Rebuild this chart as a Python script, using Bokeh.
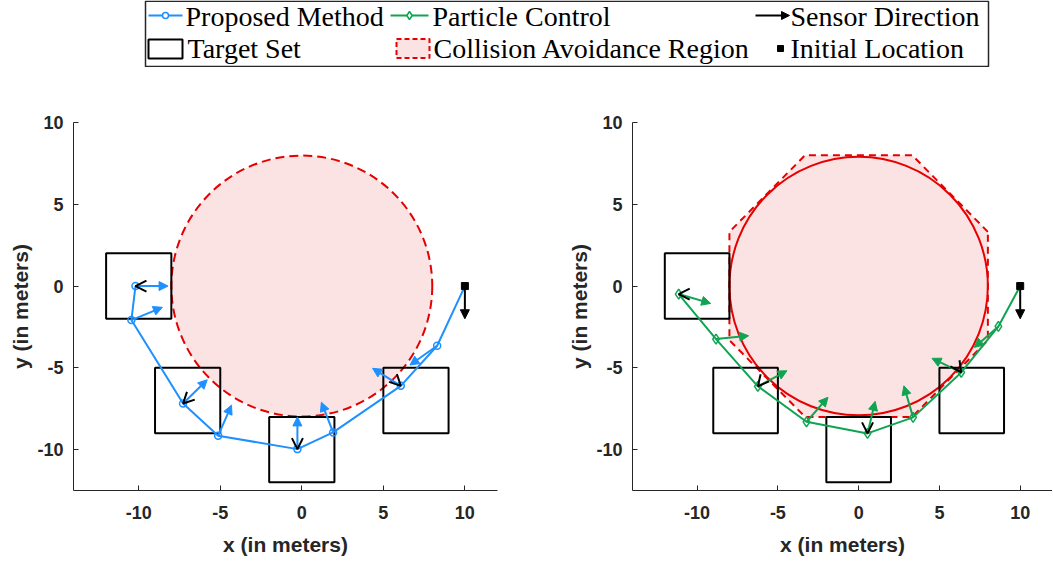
import numpy as np
from bokeh.plotting import figure
from bokeh.models import Range1d, FixedTicker, Arrow, NormalHead, OpenHead, ColumnDataSource
from bokeh.layouts import column, row
from bokeh.embed import file_html
from bokeh.resources import INLINE
from bokeh.core.properties import value

# ---------------- data ----------------
target_cx = [-10, -7, 0, 7]
target_cy = [0, -7, -10, -7]
target_half = 2.0
avoid_radius = 8.0
initial_xy = (10.0, 0.0)
initial_dir = (0.0, -2.0)

# Proposed Method trajectory
prop_x = [10.0, 8.3, 6.07, 1.92, -0.27, -5.13, -7.28, -10.45, -10.2]
prop_y = [0.0, -3.65, -6.1, -8.95, -9.97, -9.15, -7.18, -2.08, 0.0]
prop_u = [None, -1.67, -1.73, -0.72, 0.0, 0.82, 1.48, 1.9, 2.0]
prop_v = [None, -1.18, 1.07, 1.85, 1.97, 1.87, 1.45, 0.78, 0.0]
prop_sensor_idx = [2, 4, 6, 8]
prop_sensor_deg = [315, 270, 225, 180]

# Particle Control trajectory
part_x = [10.0, 8.65, 6.35, 3.37, 0.55, -3.23, -6.24, -8.83, -11.14]
part_y = [0.0, -2.47, -5.28, -8.03, -9.01, -8.3, -6.13, -3.24, -0.49]
part_u = [None, -1.49, -1.81, -0.57, 0.47, 1.33, 1.8, 2.02, 1.98]
part_v = [None, -1.28, 0.86, 1.93, 1.96, 1.5, 0.95, 0.2, -0.57]
part_sensor_idx = [2, 4, 6, 8]
part_sensor_deg = [305, 270, 230, 180]

legend_labels = ["Proposed Method", "Particle Control", "Sensor Direction",
                 "Target Set", "Collision Avoidance Region", "Initial Location"]

x_ticks = [-10, -5, 0, 5, 10]
y_ticks = [-10, -5, 0, 5, 10]
tick_text = {t: str(t) for t in x_ticks}

# ---------------- styles ----------------
BLUE = "#1e90ff"
GREEN = "#10a452"
RED = "#e60000"
PINK = "#fbe3e3"
AX = "#262626"
SERIF = "Liberation Serif"
SANS = "Liberation Sans"


def make_axes(p):
    for ax in (p.xaxis[0], p.yaxis[0]):
        ax.major_tick_in = 5
        ax.major_tick_out = 0
        ax.minor_tick_line_color = None
        ax.axis_line_color = AX
        ax.major_tick_line_color = AX
        ax.major_label_text_font = SANS
        ax.major_label_text_font_style = "bold"
        ax.major_label_text_font_size = "18px"
        ax.major_label_text_color = AX
        ax.major_label_overrides = tick_text
        ax.axis_label_text_font = SANS
        ax.axis_label_text_font_style = "bold"
        ax.axis_label_text_font_size = "21px"
        ax.axis_label_text_color = AX
    p.xaxis[0].ticker = FixedTicker(ticks=x_ticks)
    p.yaxis[0].ticker = FixedTicker(ticks=y_ticks)
    p.xaxis[0].major_label_standoff = 15
    p.xaxis[0].axis_label_standoff = 11
    p.yaxis[0].major_label_standoff = 10
    p.yaxis[0].axis_label_standoff = 2
    p.xaxis[0].axis_label = "x (in meters)"
    p.yaxis[0].axis_label = "y (in meters)"
    p.grid.visible = False
    p.outline_line_color = None


def base_fig(width, border_left, border_right):
    p = figure(width=width, height=495, output_backend="svg", toolbar_location=None,
               x_range=Range1d(-14, 12), y_range=Range1d(-12.5, 10),
               min_border_left=border_left, min_border_right=border_right,
               min_border_top=55, min_border_bottom=72,
               background_fill_color="white", border_fill_color="white")
    make_axes(p)
    return p


def draw_targets(p):
    cx = np.array(target_cx, float)
    cy = np.array(target_cy, float)
    p.quad(left=cx - target_half, right=cx + target_half,
           bottom=cy - target_half, top=cy + target_half,
           fill_alpha=0, line_color="black", line_width=2)


def draw_traj(p, xs, ys, us, vs, sidx, sdeg, color, marker, msize):
    p.line(xs, ys, line_color=color, line_width=2)
    p.scatter(xs[1:], ys[1:], marker=marker, size=msize, line_color=color,
              line_width=1.5, fill_alpha=0)
    x0 = [xs[i] for i in range(1, len(xs))]
    y0 = [ys[i] for i in range(1, len(ys))]
    x1 = [xs[i] + us[i] for i in range(1, len(xs))]
    y1 = [ys[i] + vs[i] for i in range(1, len(ys))]
    src = ColumnDataSource(dict(x0=x0, y0=y0, x1=x1, y1=y1))
    p.add_layout(Arrow(end=NormalHead(size=9, fill_color=color, line_color=color, line_width=1),
                       x_start="x0", y_start="y0", x_end="x1", y_end="y1",
                       source=src, line_color=color, line_width=2))
    # sensor direction chevrons
    ang = np.radians(np.array(sdeg, float))
    tx = np.array([xs[i] for i in sidx])
    ty = np.array([ys[i] for i in sidx])
    ssrc = ColumnDataSource(dict(x0=tx - 0.02 * np.cos(ang), y0=ty - 0.02 * np.sin(ang),
                                 x1=tx, y1=ty))
    p.add_layout(Arrow(end=OpenHead(size=11, line_color="black", line_width=2),
                       x_start="x0", y_start="y0", x_end="x1", y_end="y1",
                       source=ssrc, line_color="black", line_width=2))
    # initial location and initial sensor direction
    isrc = ColumnDataSource(dict(x0=[initial_xy[0]], y0=[initial_xy[1]],
                                 x1=[initial_xy[0] + initial_dir[0]],
                                 y1=[initial_xy[1] + initial_dir[1]]))
    p.add_layout(Arrow(end=NormalHead(size=9, fill_color="black", line_color="black", line_width=1),
                       x_start="x0", y_start="y0", x_end="x1", y_end="y1",
                       source=isrc, line_color="black", line_width=2))
    p.scatter([initial_xy[0]], [initial_xy[1]], marker="square", size=7,
              fill_color="black", line_color="black")


# ---------------- left plot ----------------
pl = base_fig(540, 73, 43)
pl.circle(x=[0], y=[0], radius=avoid_radius, fill_color=PINK, line_color=RED,
          line_width=2, line_dash="9 5")
draw_targets(pl)
draw_traj(pl, prop_x, prop_y, prop_u, prop_v, prop_sensor_idx, prop_sensor_deg,
          BLUE, "circle", 7)

# ---------------- right plot ----------------
pr = base_fig(512, 92, 0)
oct_ang = np.radians(22.5 + 45 * np.arange(8))
oct_r = avoid_radius / np.cos(np.radians(22.5))
pr.patch(list(oct_r * np.cos(oct_ang)), list(oct_r * np.sin(oct_ang)),
         fill_color=PINK, line_color=RED, line_width=2, line_dash="7 5")
pr.circle(x=[0], y=[0], radius=avoid_radius, fill_alpha=0, line_color=RED, line_width=2)
draw_targets(pr)
draw_traj(pr, part_x, part_y, part_u, part_v, part_sensor_idx, part_sensor_deg,
          GREEN, "diamond", 10)

# ---------------- legend ----------------
LH = 67
lg = figure(width=1052, height=LH, output_backend="svg", toolbar_location=None,
            x_range=Range1d(0, 1052), y_range=Range1d(LH, 0),
            x_axis_type=None, y_axis_type=None, min_border=0,
            background_fill_color="white", border_fill_color="white")
lg.grid.visible = False
lg.outline_line_color = None
lg.quad(left=[145], right=[988], top=[0.75], bottom=[66], fill_alpha=0,
        line_color=AX, line_width=1.5)
r1, r2 = 16, 48
lg.line([148, 182], [r1 - 1, r1 - 1], line_color=BLUE, line_width=2)
lg.scatter([165], [r1 - 1], marker="circle", size=6, line_color=BLUE, line_width=1.5, fill_color="white")
lg.line([390, 428], [r1 - 1, r1 - 1], line_color=GREEN, line_width=2)
lg.scatter([409], [r1 - 1], marker="diamond", size=8, line_color=GREEN, line_width=1.5, fill_color="white")
lg.add_layout(Arrow(end=NormalHead(size=8, fill_color="black", line_color="black"),
                    x_start=755, y_start=r1 - 1, x_end=789, y_end=r1 - 1,
                    line_color="black", line_width=2))
lg.quad(left=[148], right=[182], top=[39], bottom=[58], fill_alpha=0,
        line_color="black", line_width=2)
lg.quad(left=[396], right=[429], top=[38.5], bottom=[57.5], fill_color=PINK,
        line_color=RED, line_width=2, line_dash="5 3")
lg.scatter([780], [r2], marker="square", size=6, fill_color="black", line_color="black")
lg.text(x=[185, 432, 790, 187, 433, 790], y=[r1, r1, r1, r2, r2, r2],
        text=legend_labels, text_font=value(SERIF), text_font_size="28px",
        text_baseline="middle", text_color="black")

layout = column(lg, row(pl, pr))
open("out.html", "w").write(file_html(layout, INLINE))
